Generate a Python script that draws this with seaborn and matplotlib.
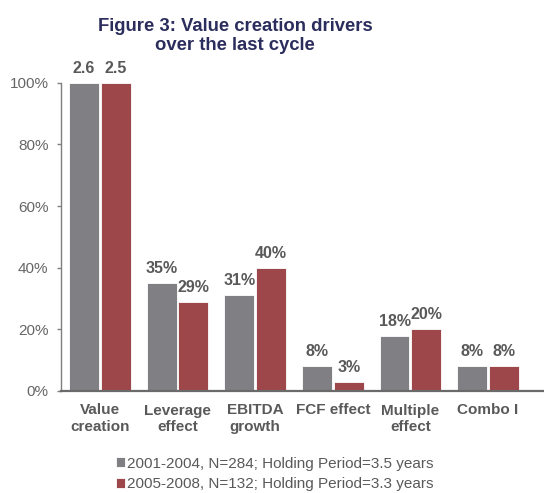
import pandas as pd
import numpy as np
import seaborn as sns
import matplotlib.pyplot as plt

# data
categories = ['Value\ncreation', 'Leverage\neffect', 'EBITDA\ngrowth', 'FCF effect', 'Multiple\neffect', 'Combo I']
series_names = ['2001-2004, N=284; Holding Period=3.5 years',
                '2005-2008, N=132; Holding Period=3.3 years']
vals_0104 = [100, 35, 31, 8, 18, 8]
vals_0508 = [100, 29, 40, 3, 20, 8]
labels_0104 = ['2.6', '35%', '31%', '8%', '18%', '8%']
labels_0508 = ['2.5', '29%', '40%', '3%', '20%', '8%']
y_ticks = [0, 20, 40, 60, 80, 100]

colors = ['#808084', '#9E474B']

df = pd.DataFrame({
    'category': categories * 2,
    'value': vals_0104 + vals_0508,
    'period': [series_names[0]] * 6 + [series_names[1]] * 6,
})

sns.set_style('white')
plt.rcParams['font.family'] = ['Liberation Sans', 'DejaVu Sans']

fig = plt.figure(figsize=(5.44, 4.93), dpi=100)
ax = fig.add_axes([61 / 544, 1 - 391 / 493, 483 / 544, (391 - 82.7) / 493])

sns.barplot(data=df, x='category', y='value', hue='period', order=categories,
            hue_order=series_names, palette=dict(zip(series_names, colors)),
            width=0.82, gap=0.06, saturation=1, edgecolor='white', linewidth=0.6, ax=ax)

for cont, labs in zip(ax.containers, [labels_0104, labels_0508]):
    ax.bar_label(cont, labels=labs, padding=5, fontsize=11.5, fontweight='bold', color='#595959')

ax.set_ylim(0, 100)
ax.set_xlim(-0.5, 5.72)
ax.set_yticks(y_ticks)
ax.set_yticklabels([f'{t}%' for t in y_ticks])
ax.set_xlabel('')
ax.set_ylabel('')

for s in ['top', 'right']:
    ax.spines[s].set_visible(False)
ax.spines['left'].set_color('#7f7f7f')
ax.spines['left'].set_linewidth(1)
ax.spines['bottom'].set_color('#6a6a6a')
ax.spines['bottom'].set_linewidth(1.6)

ax.tick_params(axis='y', left=True, length=3, width=1, color='#7f7f7f',
               labelsize=11, labelcolor='#666666', pad=6)
ax.tick_params(axis='x', bottom=False, length=0, labelsize=11, labelcolor='#595959', pad=9)
for t in ax.get_xticklabels():
    t.set_fontweight('bold')

handles, labs = ax.get_legend_handles_labels()
ax.get_legend().remove()
fig.legend(handles, labs, loc='center', bbox_to_anchor=(275 / 544, 1 - 474 / 493),
           frameon=False, fontsize=11, handlelength=0.6, handleheight=0.6,
           handletextpad=0.12, labelspacing=0.45, labelcolor='#595959')

fig.text(235 / 544, 1 - 36 / 493, 'Figure 3: Value creation drivers\nover the last cycle',
         ha='center', va='center', fontsize=13.3, fontweight='bold', color='#2B2D5C',
         linespacing=1.1)

plt.savefig('out.png', dpi=100)
